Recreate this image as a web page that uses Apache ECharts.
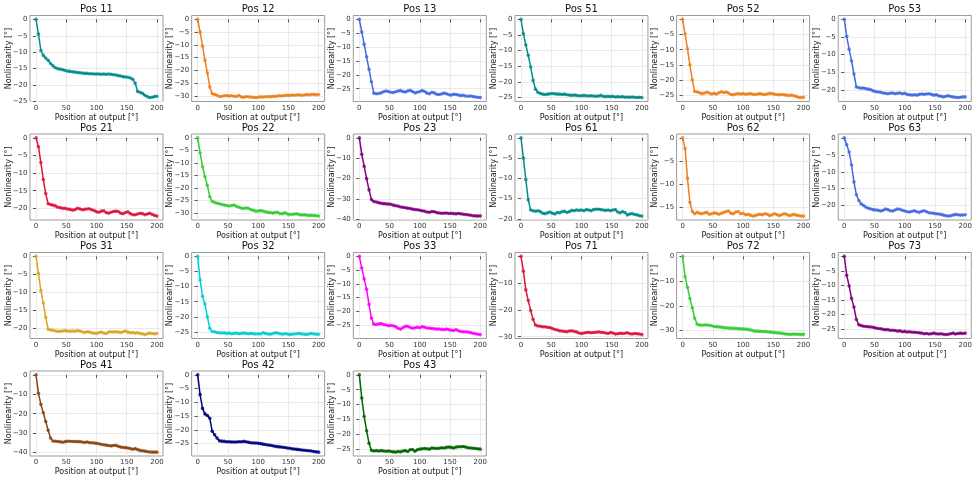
<!DOCTYPE html>
<html>
<head>
<meta charset="utf-8">
<script src="https://cdn.jsdelivr.net/npm/echarts@6/dist/echarts.min.js"></script>
<style>
  html, body { margin: 0; padding: 0; background: #fff; }
  #chart { width: 979px; height: 477px; }
</style>
</head>
<body>
<div id="chart"></div>
<script>
// shared x positions [°]
const positions = [0, 4, 8, 12, 16, 20, 24, 28, 32, 36, 40, 44, 48, 52, 56, 60, 64, 68, 72, 76,
  80, 84, 88, 92, 96, 100, 104, 108, 112, 116, 120, 124, 128, 132, 136, 140, 144, 148, 152, 156,
  160, 164, 168, 172, 176, 180, 184, 188, 192, 196, 200];

// nonlinearity [°] per position
const pos11 = [0, -4.5, -9.5, -11, -11.8, -12.5, -13.5, -14.2, -14.8, -15.1,
  -15.2, -15.4, -15.6, -15.8, -15.9, -16.0, -16.1, -16.2, -16.3, -16.4,
  -16.5, -16.5, -16.6, -16.6, -16.7, -16.7, -16.7, -16.8, -16.7, -16.8,
  -16.7, -16.8, -16.9, -17.0, -17.2, -17.3, -17.5, -17.6, -17.7, -17.9,
  -18.3, -19.5, -22.0, -22.3, -22.6, -23.2, -23.6, -23.9, -23.8, -23.6, -23.5];
const pos12 = [0, -5, -10.5, -16, -21, -26.5, -29.2, -29.5, -29.8, -30.3,
  -30.2, -30.0, -29.9, -30.1, -30.0, -30.2, -30.3, -29.9, -30.4, -30.6,
  -30.3, -30.4, -30.5, -30.6, -30.7, -30.6, -30.4, -30.5, -30.4, -30.3,
  -30.4, -30.2, -30.3, -30.1, -30.0, -30.1, -29.9, -29.8, -29.9, -29.7,
  -29.8, -29.7, -29.6, -29.8, -29.7, -29.5, -29.6, -29.5, -29.4, -29.6, -29.5];
const pos13 = [0, -4.5, -9, -13.5, -18, -22.5, -26.6, -26.8, -26.7, -26.5,
  -26.1, -25.8, -26.0, -26.3, -26.4, -26.1, -25.8, -25.7, -26.0, -26.2,
  -25.8, -25.6, -26.0, -26.5, -26.3, -26.0, -25.7, -26.0, -26.6, -26.8,
  -26.3, -26.5, -27.0, -27.1, -26.9, -26.6, -26.8, -27.2, -27.3, -27.0,
  -27.1, -27.3, -27.5, -27.4, -27.6, -27.7, -27.6, -27.8, -28.0, -28.1, -28.2];
const pos51 = [0, -4.6, -8.2, -11.5, -15.2, -19.5, -22.3, -23.3, -23.7, -23.9,
  -24.0, -23.9, -23.8, -23.7, -23.8, -23.9, -23.9, -24.0, -23.9, -24.1,
  -24.2, -24.3, -24.2, -24.3, -24.4, -24.4, -24.3, -24.4, -24.5, -24.4,
  -24.5, -24.6, -24.5, -24.3, -24.6, -24.7, -24.6, -24.7, -24.6, -24.8,
  -24.7, -24.8, -24.7, -24.9, -24.8, -24.9, -24.8, -24.9, -25.0, -24.9, -25.0];
const pos52 = [0, -4.8, -9.7, -15, -20, -23.8, -23.9, -24.2, -24.5, -24.3,
  -24.0, -24.3, -24.6, -24.4, -24.6, -24.2, -23.9, -24.1, -24.0, -24.3,
  -24.8, -24.9, -24.6, -24.5, -24.6, -24.5, -24.7, -24.6, -24.5, -24.7,
  -24.8, -24.6, -24.5, -24.7, -24.8, -24.6, -24.4, -24.5, -24.7, -24.8,
  -24.9, -24.8, -24.9, -25.0, -25.1, -25.0, -25.2, -25.4, -25.8, -25.8, -25.7];
const pos53 = [0, -4.8, -8.5, -11.8, -15.5, -19.2, -19.4, -19.5, -19.5, -19.7,
  -19.8, -20.0, -20.3, -20.5, -20.6, -20.7, -20.9, -21.0, -21.1, -21.0,
  -20.9, -21.1, -21.0, -20.9, -21.1, -21.0, -21.3, -21.4, -21.5, -21.4,
  -21.5, -21.3, -21.2, -21.3, -21.2, -21.1, -21.3, -21.5, -21.4, -21.7,
  -21.8, -22.0, -21.8, -21.7, -21.9, -22.0, -22.1, -22.2, -22.1, -22.0, -22.0];
const pos21 = [0, -2.5, -7, -11.8, -15.8, -18.7, -18.9, -19.1, -19.3, -19.7,
  -19.8, -20.0, -20.0, -20.2, -20.3, -20.5, -20.4, -20.0, -20.1, -20.4,
  -20.3, -20.2, -20.1, -20.4, -20.6, -21.0, -21.1, -20.8, -20.7, -21.2,
  -21.4, -21.1, -20.9, -20.8, -20.9, -21.4, -21.5, -21.2, -21.0, -21.5,
  -21.8, -21.8, -21.6, -21.4, -21.5, -21.8, -21.6, -21.4, -21.7, -22.0, -22.2];
const pos22 = [0, -6, -11.5, -15.5, -19, -23.5, -25.3, -25.8, -26.1, -26.3,
  -26.6, -26.8, -27.0, -27.2, -27.0, -26.8, -27.3, -27.7, -28.0, -28.2,
  -28.0, -28.1, -28.6, -28.9, -29.2, -29.2, -29.0, -29.2, -29.5, -29.7,
  -29.8, -30.0, -29.8, -29.7, -30.2, -30.3, -29.9, -30.3, -30.6, -30.5,
  -30.4, -30.3, -30.6, -30.8, -30.7, -30.8, -31.0, -30.9, -31.0, -31.1, -31.2];
const pos23 = [0, -8, -14, -20, -25.5, -30.3, -31.2, -31.5, -31.8, -32.1,
  -32.3, -32.4, -32.5, -32.6, -33.0, -33.3, -33.5, -33.9, -34.1, -34.3,
  -34.5, -34.7, -35.0, -35.2, -35.3, -35.5, -35.8, -36.0, -36.4, -36.5,
  -36.2, -36.3, -36.7, -36.9, -37.0, -37.0, -36.9, -37.1, -37.0, -37.2,
  -37.3, -37.1, -37.3, -37.5, -37.6, -37.8, -38.0, -38.2, -38.3, -38.4, -38.3];
const pos61 = [0, -5, -10.3, -15.3, -17.8, -18.0, -18.1, -18.0, -18.2, -18.6,
  -18.7, -18.5, -18.3, -18.6, -18.8, -18.4, -18.5, -18.2, -18.1, -18.4,
  -18.2, -17.9, -18.0, -17.8, -17.9, -17.8, -18.0, -17.7, -17.8, -18.0,
  -17.7, -17.6, -17.6, -17.7, -17.8, -17.9, -17.8, -18.0, -17.8, -17.7,
  -18.3, -18.5, -18.2, -18.4, -19.0, -18.8, -18.7, -18.9, -19.0, -19.2, -19.3];
const pos62 = [0, -2.3, -8.8, -14, -16.0, -16.5, -16.2, -16.4, -16.5, -16.3,
  -16.2, -16.6, -16.5, -16.3, -16.4, -16.6, -16.4, -16.2, -16.0, -15.9,
  -16.4, -16.5, -16.1, -16.0, -16.5, -16.4, -16.7, -16.6, -16.8, -17.0,
  -16.9, -16.7, -16.6, -16.7, -16.5, -16.6, -16.9, -16.7, -16.5, -16.7,
  -16.9, -16.7, -16.5, -16.6, -16.9, -16.8, -16.6, -16.8, -16.9, -17.0, -17.0];
const pos63 = [0, -2, -4.2, -8, -13, -16.8, -18.5, -19.5, -20.0, -20.5,
  -20.8, -21.0, -21.2, -21.3, -21.4, -21.6, -21.4, -21.0, -21.2, -21.5,
  -21.6, -21.3, -21.0, -21.1, -21.4, -21.6, -21.8, -21.9, -21.7, -21.5,
  -21.8, -22.0, -21.7, -21.5, -21.8, -22.1, -22.2, -22.3, -22.4, -22.5,
  -22.6, -22.8, -23.0, -23.1, -23.0, -22.8, -22.6, -22.7, -22.8, -22.8, -22.7];
const pos31 = [0, -4.8, -9.5, -13, -17, -20.3, -20.5, -20.6, -20.8, -20.9,
  -20.9, -20.8, -20.7, -20.8, -20.9, -20.8, -20.9, -20.7, -20.8, -21.0,
  -21.2, -21.0, -21.1, -21.3, -21.4, -21.5, -21.2, -21.1, -21.4, -21.5,
  -21.1, -21.0, -21.1, -21.0, -21.1, -21.2, -21.0, -20.8, -21.1, -21.3,
  -21.2, -21.4, -21.3, -21.5, -21.6, -21.8, -21.6, -21.4, -21.5, -21.6, -21.5];
const pos32 = [0, -7.8, -13.2, -15.8, -20, -23.8, -24.9, -25.0, -25.2, -25.3,
  -25.4, -25.3, -25.5, -25.4, -25.6, -25.5, -25.4, -25.6, -25.5, -25.4,
  -25.5, -25.6, -25.5, -25.6, -25.7, -25.6, -25.7, -25.3, -25.5, -25.7,
  -25.8, -25.6, -25.3, -25.4, -25.6, -25.8, -25.6, -25.7, -25.9, -25.8,
  -25.7, -25.6, -25.5, -25.7, -25.8, -25.9, -25.7, -25.5, -25.7, -25.8, -25.8];
const pos33 = [0, -4.2, -8.2, -12, -17.5, -22.5, -24.7, -24.8, -24.6, -24.5,
  -24.8, -25.0, -25.3, -25.2, -25.3, -25.6, -26.2, -26.5, -26.0, -25.5,
  -25.5, -25.9, -26.2, -26.0, -25.8, -26.0, -25.6, -25.8, -26.1, -26.2,
  -26.3, -26.4, -26.5, -26.5, -26.6, -26.7, -26.5, -26.7, -26.9, -27.0,
  -26.7, -27.1, -27.4, -27.5, -27.5, -27.6, -27.8, -28.0, -28.2, -28.4, -28.5];
const pos71 = [0, -5.5, -12.5, -16.5, -20.2, -23.5, -25.6, -26.0, -26.1, -26.3,
  -26.3, -26.5, -26.6, -26.9, -27.3, -27.5, -27.8, -27.9, -28.0, -28.1,
  -27.9, -27.8, -28.0, -28.2, -28.6, -28.8, -28.6, -28.4, -28.3, -28.5,
  -28.4, -28.3, -28.2, -28.3, -28.4, -28.6, -28.8, -28.4, -28.6, -29.0,
  -28.9, -28.7, -28.8, -28.7, -28.5, -28.9, -29.0, -28.8, -28.9, -29.0, -29.2];
const pos72 = [0, -8.2, -12.5, -17, -20.8, -25, -27.4, -27.7, -27.8, -27.7,
  -27.7, -27.8, -28.0, -28.3, -28.4, -28.5, -28.6, -28.8, -28.9, -29.0,
  -29.0, -29.1, -29.1, -29.2, -29.3, -29.3, -29.4, -29.5, -29.7, -30.0,
  -30.2, -30.2, -30.3, -30.4, -30.4, -30.5, -30.6, -30.7, -30.8, -30.9,
  -31.0, -31.1, -31.3, -31.4, -31.5, -31.5, -31.4, -31.5, -31.5, -31.6, -31.5];
const pos73 = [0, -6.5, -10.2, -14.5, -17.5, -21.8, -23.6, -23.9, -24.1, -24.2,
  -24.3, -24.4, -24.5, -24.7, -24.9, -25.0, -25.2, -25.3, -25.3, -25.5,
  -25.5, -25.6, -25.8, -25.7, -26.0, -25.9, -26.1, -26.0, -26.2, -26.2,
  -26.3, -26.4, -26.5, -26.7, -26.6, -26.8, -26.7, -26.5, -26.7, -26.8,
  -26.7, -26.9, -27.0, -26.9, -26.7, -26.5, -26.8, -26.6, -26.5, -26.6, -26.5];
const pos41 = [0, -9.5, -15.2, -19.5, -24, -28.5, -32.5, -34.1, -34.2, -34.3,
  -34.5, -34.7, -34.4, -34.2, -34.2, -34.3, -34.3, -34.4, -34.4, -34.6,
  -34.8, -34.6, -34.9, -35.0, -35.1, -35.3, -35.5, -35.8, -36.0, -36.2,
  -36.4, -36.6, -36.4, -36.3, -36.8, -37.2, -37.4, -37.5, -37.7, -38.0,
  -38.3, -38.0, -38.5, -38.9, -39.1, -39.3, -39.5, -39.7, -39.8, -39.8, -39.8];
const pos42 = [0, -7.2, -12.2, -14.2, -14.8, -15.8, -20.5, -21.8, -23.0, -24.0,
  -24.1, -24.2, -24.3, -24.3, -24.4, -24.4, -24.4, -24.3, -24.3, -24.2,
  -24.3, -24.5, -24.7, -24.8, -24.8, -24.9, -25.0, -25.2, -25.3, -25.5,
  -25.6, -25.8, -26.0, -26.1, -26.2, -26.3, -26.4, -26.6, -26.7, -26.9,
  -27.0, -27.1, -27.2, -27.3, -27.4, -27.5, -27.6, -27.7, -27.9, -28.0, -28.1];
const pos43 = [0, -7.8, -14, -18.8, -23, -25.4, -25.6, -25.5, -25.6, -25.5,
  -25.6, -25.7, -25.6, -25.8, -25.9, -26.0, -25.8, -25.9, -25.6, -25.5,
  -25.8, -25.2, -25.1, -25.7, -25.2, -25.0, -24.9, -24.8, -24.9, -25.0,
  -24.6, -24.7, -24.8, -24.7, -24.5, -24.6, -24.4, -24.3, -24.4, -24.6,
  -24.3, -24.2, -24.2, -24.1, -24.3, -24.5, -24.6, -24.7, -24.8, -24.9, -25.0];

// tick labels
const xTicks = [0, 50, 100, 150, 200];
const ticks15 = [0, -5, -10, -15];
const ticks20 = [0, -5, -10, -15, -20];
const ticks25 = [0, -5, -10, -15, -20, -25];
const ticks30 = [0, -5, -10, -15, -20, -25, -30];
const ticks30by10 = [0, -10, -20, -30];
const ticks40 = [0, -10, -20, -30, -40];

// panels in grid order (row by row, 6 columns)
const panelNames = ['Pos 11', 'Pos 12', 'Pos 13', 'Pos 51', 'Pos 52', 'Pos 53',
  'Pos 21', 'Pos 22', 'Pos 23', 'Pos 61', 'Pos 62', 'Pos 63',
  'Pos 31', 'Pos 32', 'Pos 33', 'Pos 71', 'Pos 72', 'Pos 73',
  'Pos 41', 'Pos 42', 'Pos 43'];
const panelData = [pos11, pos12, pos13, pos51, pos52, pos53,
  pos21, pos22, pos23, pos61, pos62, pos63,
  pos31, pos32, pos33, pos71, pos72, pos73,
  pos41, pos42, pos43];
const panelTicks = [ticks25, ticks30, ticks25, ticks25, ticks25, ticks20,
  ticks20, ticks30, ticks40, ticks20, ticks15, ticks20,
  ticks20, ticks25, ticks25, ticks30by10, ticks30by10, ticks25,
  ticks40, ticks25, ticks25];
const panelColors = ['#008b8b', '#ef7f1a', '#4169e1', '#008b8b', '#ef7f1a', '#4169e1',
  '#dc143c', '#32cd32', '#800080', '#008b8b', '#ef7f1a', '#4169e1',
  '#daa520', '#00ced1', '#ff00ff', '#dc143c', '#32cd32', '#800080',
  '#8b4513', '#000080', '#006400'];

const FONT = 'DejaVu Sans';
const fmtMinus = v => (v < 0 ? '\u2212' + Math.abs(v) : String(v));

let chart = echarts.init(document.getElementById('chart'), null, { renderer: 'canvas' });

const grids = [], xAxes = [], yAxes = [], series = [], titles = [];
const colStep = 161.65, rowStep = 118.5;
const gw = 133, gh = 86;

for (let i = 0; i < panelNames.length; i++) {
  const col = i % 6, row = Math.floor(i / 6);
  const left = 30 + col * colStep;
  const top = 15.5 + row * rowStep;
  const vals = panelData[i];
  // matplotlib style 5% margins
  const lo = Math.min(...vals);
  const pad = -lo * 0.05;

  grids.push({
    left: left, top: top, width: gw, height: gh,
    show: true, borderColor: '#9a9a9a', borderWidth: 1, backgroundColor: '#fff'
  });
  titles.push({
    text: panelNames[i], left: left + gw / 2, top: top - 11, textAlign: 'center', padding: 0,
    textStyle: { fontFamily: FONT, fontSize: 10, fontWeight: 'normal', color: '#111' }
  });
  xAxes.push({
    type: 'value', gridIndex: i, min: -10, max: 210,
    name: 'Position at output [°]', nameLocation: 'middle', nameGap: 12, nameMoveOverlap: false,
    nameTextStyle: { fontFamily: FONT, fontSize: 8, color: '#222' },
    axisLine: { show: false },
    axisTick: { show: true, length: 3, customValues: xTicks, lineStyle: { color: '#555' } },
    axisLabel: { fontFamily: FONT, fontSize: 7, color: '#333', margin: 3, customValues: xTicks, formatter: fmtMinus },
    splitLine: { show: true, lineStyle: { color: '#e4e4e4', width: 0.8 } }
  });
  yAxes.push({
    type: 'value', gridIndex: i, min: lo - pad, max: pad,
    name: 'Nonlinearity [°]', nameLocation: 'middle', nameGap: 17.5, nameMoveOverlap: false,
    nameTextStyle: { fontFamily: FONT, fontSize: 8, color: '#222' },
    axisLine: { show: false },
    axisTick: { show: true, length: 3, customValues: panelTicks[i], lineStyle: { color: '#555' } },
    axisLabel: { fontFamily: FONT, fontSize: 7, color: '#333', margin: 2.5, customValues: panelTicks[i], formatter: fmtMinus },
    splitLine: { show: true, lineStyle: { color: '#e4e4e4', width: 0.8 } }
  });
  series.push({
    type: 'line', xAxisIndex: i, yAxisIndex: i,
    data: positions.map((x, k) => [x, vals[k]]),
    symbol: 'circle', symbolSize: 3.6, showSymbol: true,
    lineStyle: { color: panelColors[i], width: 1.5 },
    itemStyle: { color: panelColors[i], opacity: 0.8 },
    emphasis: { disabled: true }, silent: true
  });
}

const option = {
  animation: false,
  backgroundColor: '#fff',
  title: titles,
  grid: grids,
  xAxis: xAxes,
  yAxis: yAxes,
  series: series
};
chart.setOption(option);
window.onresize = function () {
  chart.resize();
};
</script>
</body>
</html>
